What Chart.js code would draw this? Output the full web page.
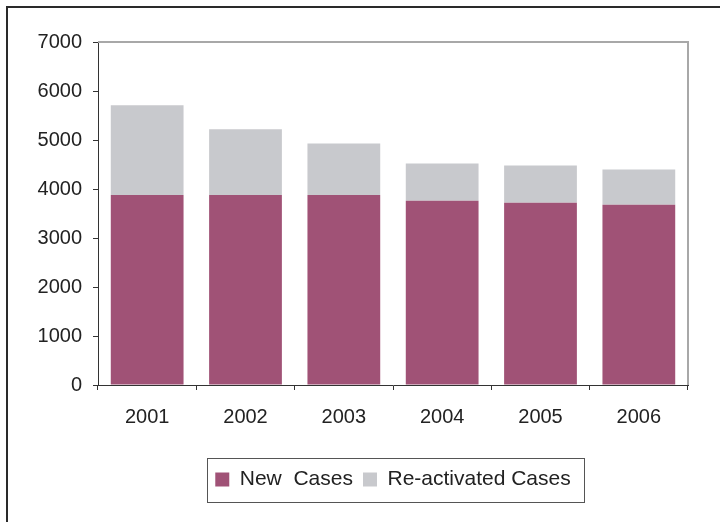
<!DOCTYPE html>
<html>
<head>
<meta charset="utf-8">
<script src="https://cdn.jsdelivr.net/npm/chart.js@4/dist/chart.umd.min.js"></script>
<style>
  html, body { margin: 0; padding: 0; background: #fff; }
  #wrap { position: relative; width: 720px; height: 522px; }
</style>
</head>
<body>
<div id="wrap"><canvas id="chart" width="720" height="522"></canvas></div>
<script>
// --- DATI ---
const YEARS = ["2001", "2002", "2003", "2004", "2005", "2006"];
const NEW_CASES = [3880, 3880, 3880, 3760, 3720, 3680];
const REACTIVATED_CASES = [1830, 1340, 1050, 760, 760, 720];

const COLORS = {
  newCases: "#A05276",
  reactivated: "#C8C9CD",
  axis: "#333333",
  plotBorder: "#A8A8A8",
  text: "#222222",
};

Chart.defaults.font.family = "'Liberation Sans', Arial, sans-serif";
Chart.defaults.color = COLORS.text;

// cornice esterna, bordo area grafico e riquadro legenda
const framePlugin = {
  id: "frame",
  afterDraw(chart) {
    const ctx = chart.ctx;
    const a = chart.chartArea;
    ctx.save();
    // cornice esterna (esce dal canvas a destra e in basso)
    ctx.strokeStyle = "#2a2a2a";
    ctx.lineWidth = 2;
    ctx.strokeRect(7, 7, 730, 530);
    // bordo superiore e destro dell'area
    ctx.strokeStyle = COLORS.plotBorder;
    ctx.lineWidth = 2;
    ctx.beginPath();
    ctx.moveTo(a.left, a.top);
    ctx.lineTo(a.right, a.top);
    ctx.lineTo(a.right, a.bottom);
    ctx.stroke();
    // riquadro legenda
    const hb = chart.legend.legendHitBoxes;
    if (hb && hb.length) {
      const first = hb[0], last = hb[hb.length - 1];
      const left = first.left - 8;
      const right = last.left + last.width + 14;
      const top = first.top + first.height / 2 - 22;
      ctx.strokeStyle = "#555555";
      ctx.lineWidth = 1;
      ctx.strokeRect(Math.round(left) + 0.5, Math.round(top) + 0.5, Math.round(right - left), 44);
    }
    ctx.restore();
  },
};

new Chart(document.getElementById("chart"), {
  type: "bar",
  data: {
    labels: YEARS,
    datasets: [
      {
        label: "New  Cases",
        data: NEW_CASES,
        backgroundColor: COLORS.newCases,
        borderWidth: 0,
        barPercentage: 0.74,
        categoryPercentage: 1,
      },
      {
        label: "Re-activated Cases",
        data: REACTIVATED_CASES,
        backgroundColor: COLORS.reactivated,
        borderWidth: 0,
        barPercentage: 0.74,
        categoryPercentage: 1,
      },
    ],
  },
  options: {
    responsive: false,
    animation: false,
    layout: { padding: { top: 42, right: 32, left: 0, bottom: 22 } },
    plugins: {
      tooltip: { enabled: false },
      legend: {
        position: "bottom",
        fullSize: false,
        labels: {
          boxWidth: 14,
          boxHeight: 14,
          padding: 10,
          color: COLORS.text,
          font: { size: 21 },
        },
      },
    },
    scales: {
      x: {
        stacked: true,
        grid: {
          offset: true,
          drawOnChartArea: false,
          tickLength: 5,
          color: COLORS.axis,
        },
        border: { color: COLORS.axis, width: 1 },
        ticks: { padding: 15, font: { size: 20 }, color: COLORS.text },
        afterFit: (s) => { s.height = 74; },
      },
      y: {
        stacked: true,
        min: 0,
        max: 7000,
        grid: {
          drawOnChartArea: false,
          tickLength: 5,
          color: COLORS.axis,
        },
        border: { color: COLORS.axis, width: 1 },
        ticks: {
          stepSize: 1000,
          padding: 11,
          font: { size: 20 },
          color: COLORS.text,
          callback: (v) => String(v),
        },
        afterFit: (s) => { s.width = 98; },
      },
    },
  },
  plugins: [framePlugin],
});
</script>
</body>
</html>
